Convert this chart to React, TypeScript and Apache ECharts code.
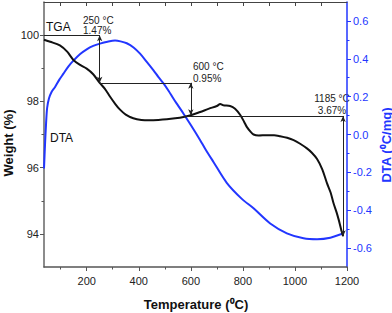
import React, { useEffect, useRef } from "react";
import * as echarts from "echarts";

const tgaTemp = [36, 60, 97, 125, 149, 175, 200, 225, 250, 270, 290, 310, 328, 350, 379, 410, 443, 475, 508, 540, 572, 600, 636, 670, 700, 713, 725, 751, 770, 790, 805, 815, 830, 841, 860, 892, 920, 943, 970, 995, 1020, 1046, 1065, 1085, 1105, 1123, 1137, 1148, 1160, 1168, 1177, 1185];
const tgaWeight = [99.86, 99.8, 99.69, 99.5, 99.25, 99.1, 98.99, 98.82, 98.56, 98.38, 98.14, 97.92, 97.75, 97.6, 97.49, 97.44, 97.43, 97.44, 97.46, 97.49, 97.53, 97.58, 97.68, 97.78, 97.86, 97.92, 97.88, 97.86, 97.78, 97.59, 97.38, 97.23, 97.08, 97.0, 96.97, 96.98, 96.98, 96.95, 96.9, 96.83, 96.72, 96.58, 96.45, 96.26, 95.95, 95.53, 95.25, 94.93, 94.65, 94.43, 94.15, 93.93];

const dtaTemp = [36, 40, 44, 48, 55, 65, 78, 95, 110, 130, 149, 175, 200, 225, 251, 280, 309, 330, 354, 380, 405, 430, 456, 475, 495, 515, 533, 550, 572, 600, 636, 655, 687, 738, 796, 841, 905, 969, 1033, 1085, 1136, 1187];
const dtaValue = [-0.18, -0.05, 0.06, 0.14, 0.19, 0.225, 0.25, 0.29, 0.32, 0.36, 0.39, 0.425, 0.45, 0.468, 0.48, 0.49, 0.496, 0.492, 0.482, 0.46, 0.427, 0.385, 0.34, 0.305, 0.27, 0.23, 0.19, 0.155, 0.11, 0.05, -0.03, -0.075, -0.145, -0.255, -0.34, -0.39, -0.47, -0.522, -0.548, -0.553, -0.545, -0.522];

const xMajor = [200, 400, 600, 800, 1000, 1200];
const xMinor = [100, 300, 500, 700, 900, 1100];
const xTop = [100, 200, 300, 400, 500, 600, 700, 800, 900, 1000, 1100];
const wMajor = [94, 96, 98, 100];
const wMinor = [95, 97, 99];
const dMajor = [-0.6, -0.4, -0.2, 0, 0.2, 0.4, 0.6];
const dMinor = [-0.5, -0.3, -0.1, 0.1, 0.3, 0.5];

// annotation steps: temperature, weight before, weight after
const stepTemp = [250, 600, 1185];
const stepFrom = [100, 98.56, 97.56];
const stepTo = [98.56, 97.58, 93.93];
const hLineStart = [36, 250, 570];

const FONT = "'Liberation Sans', Arial, sans-serif";
const BLUE = "#2236ff";
const BLACK = "#111111";

export default function App() {
  const ref = useRef<HTMLDivElement>(null);
  useEffect(() => {
    if (!ref.current) return;
    const chart = echarts.init(ref.current, null, { renderer: "svg" });

    const markData: any[] = [];
    for (let i = 0; i < stepTemp.length; i++) {
      markData.push([
        { coord: [hLineStart[i], stepFrom[i]], symbol: "none" },
        { coord: [stepTemp[i], stepFrom[i]], symbol: "none" },
      ]);
      markData.push([
        { coord: [stepTemp[i], stepFrom[i]], symbol: "arrow" },
        { coord: [stepTemp[i], stepTo[i]], symbol: "arrow" },
      ]);
    }

    const tickLabel = { fontFamily: FONT, fontSize: 11, color: "#222", formatter: (v: number) => String(v) };

    chart.setOption({
      animation: false,
      grid: { left: 44, right: 45, top: 2, bottom: 46, containLabel: false },
      xAxis: [
        {
          type: "value", min: 36, max: 1200, position: "bottom",
          axisLine: { show: true, onZero: false, lineStyle: { color: "#555", width: 1.5 } },
          axisTick: { show: true, customValues: xMajor, length: 4, lineStyle: { color: "#555" } },
          axisLabel: { show: true, customValues: xMajor, margin: 8, ...tickLabel },
          splitLine: { show: false },
        },
        {
          type: "value", min: 36, max: 1200, position: "bottom",
          axisLine: { show: false, onZero: false },
          axisTick: { show: true, customValues: xMinor, length: 2.5, lineStyle: { color: "#555" } },
          axisLabel: { show: false },
          splitLine: { show: false },
        },
        {
          type: "value", min: 36, max: 1200, position: "top",
          axisLine: { show: true, onZero: false, lineStyle: { color: "#444", width: 1 } },
          axisTick: { show: true, inside: true, customValues: xTop, length: 4, lineStyle: { color: "#444" } },
          axisLabel: { show: false },
          splitLine: { show: false },
        },
      ],
      yAxis: [
        {
          type: "value", min: 93, max: 101, position: "left",
          axisLine: { show: true, onZero: false, lineStyle: { color: "#666", width: 1.5 } },
          axisTick: { show: true, customValues: wMajor, length: 4, lineStyle: { color: "#555" } },
          axisLabel: { show: true, customValues: wMajor, margin: 5, ...tickLabel },
          splitLine: { show: false },
        },
        {
          type: "value", min: 93, max: 101, position: "left",
          axisLine: { show: false, onZero: false },
          axisTick: { show: true, customValues: wMinor, length: 2.5, lineStyle: { color: "#555" } },
          axisLabel: { show: false },
          splitLine: { show: false },
        },
        {
          type: "value", min: -0.7, max: 0.7, position: "right",
          axisLine: { show: true, onZero: false, lineStyle: { color: BLUE, width: 1.5 } },
          axisTick: { show: true, customValues: dMajor, length: 4, lineStyle: { color: BLUE } },
          axisLabel: {
            show: true, customValues: dMajor, margin: 6, fontFamily: FONT, fontSize: 11, color: BLUE,
            formatter: (v: number) => v.toFixed(1),
          },
          splitLine: { show: false },
        },
        {
          type: "value", min: -0.7, max: 0.7, position: "right",
          axisLine: { show: false, onZero: false },
          axisTick: { show: true, customValues: dMinor, length: 2.5, lineStyle: { color: BLUE } },
          axisLabel: { show: false },
          splitLine: { show: false },
        },
      ],
      series: [
        {
          name: "TGA", type: "line", xAxisIndex: 0, yAxisIndex: 0,
          data: tgaTemp.map((t, i) => [t, tgaWeight[i]]),
          smooth: 0.3, showSymbol: false, symbol: "none",
          lineStyle: { color: BLACK, width: 2 },
          z: 3,
          markLine: {
            silent: true, animation: false,
            symbolSize: [4, 6],
            label: { show: false },
            lineStyle: { color: "#222", width: 1, type: "solid" },
            data: markData,
          },
        },
        {
          name: "DTA", type: "line", xAxisIndex: 0, yAxisIndex: 2,
          data: dtaTemp.map((t, i) => [t, dtaValue[i]]),
          smooth: 0.3, showSymbol: false, symbol: "none",
          lineStyle: { color: BLUE, width: 2 },
          z: 2,
        },
      ],
      graphic: [
        { type: "text", x: 46, y: 27, style: { text: "TGA", font: `12px ${FONT}`, fill: "#111", verticalAlign: "middle" } },
        { type: "text", x: 50, y: 138, style: { text: "DTA", font: `12px ${FONT}`, fill: "#111", verticalAlign: "middle" } },
        { type: "text", x: 83, y: 20, style: { text: "250 °C", font: `10px ${FONT}`, fill: "#222", verticalAlign: "middle" } },
        { type: "text", x: 83, y: 30.5, style: { text: "1.47%", font: `10px ${FONT}`, fill: "#222", verticalAlign: "middle" } },
        { type: "text", x: 193, y: 66, style: { text: "600 °C", font: `10px ${FONT}`, fill: "#222", verticalAlign: "middle" } },
        { type: "text", x: 193, y: 78, style: { text: "0.95%", font: `10px ${FONT}`, fill: "#222", verticalAlign: "middle" } },
        { type: "text", x: 332, y: 98, style: { text: "1185 °C", font: `10px ${FONT}`, fill: "#222", align: "center", verticalAlign: "middle" } },
        { type: "text", x: 332, y: 110, style: { text: "3.67%", font: `10px ${FONT}`, fill: "#222", align: "center", verticalAlign: "middle" } },
        { type: "text", x: 8, y: 143, rotation: Math.PI / 2, style: { text: "Weight (%)", font: `bold 13px ${FONT}`, fill: "#111", align: "center", verticalAlign: "middle" } },
        { type: "text", x: 386, y: 145, rotation: Math.PI / 2, style: { text: "DTA (⁰C/mg)", font: `bold 13px ${FONT}`, fill: BLUE, align: "center", verticalAlign: "middle" } },
        { type: "text", x: 196, y: 304, style: { text: "Temperature (⁰C)", font: `bold 13px ${FONT}`, fill: "#111", align: "center", verticalAlign: "middle" } },
      ],
    });
    return () => chart.dispose();
  }, []);
  return (
    <div
      ref={ref}
      style={{ position: "absolute", left: 0, top: 0, width: 392, height: 313, background: "#fff" }}
    />
  );
}
